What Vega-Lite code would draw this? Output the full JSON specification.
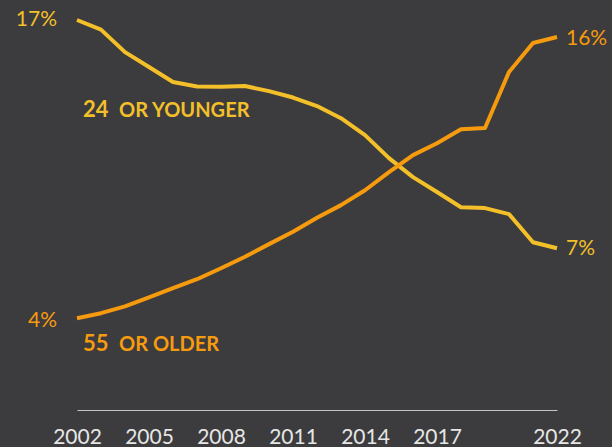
{
  "$schema": "https://vega.github.io/schema/vega-lite/v6.json",
  "width": 480,
  "height": 390,
  "autosize": {"type": "none"},
  "padding": {"left": 77, "top": 20, "right": 55, "bottom": 37},
  "background": "#3c3b3d",
  "config": {"view": {"stroke": null}, "font": "Lato"},
  "datasets": {
    "series": [
      {"year": 2002, "group": "24 or younger", "value": 17.0},
      {"year": 2003, "group": "24 or younger", "value": 16.58},
      {"year": 2004, "group": "24 or younger", "value": 15.6},
      {"year": 2005, "group": "24 or younger", "value": 14.95},
      {"year": 2006, "group": "24 or younger", "value": 14.3},
      {"year": 2007, "group": "24 or younger", "value": 14.1},
      {"year": 2008, "group": "24 or younger", "value": 14.09},
      {"year": 2009, "group": "24 or younger", "value": 14.12},
      {"year": 2010, "group": "24 or younger", "value": 13.9},
      {"year": 2011, "group": "24 or younger", "value": 13.62},
      {"year": 2012, "group": "24 or younger", "value": 13.25},
      {"year": 2013, "group": "24 or younger", "value": 12.72},
      {"year": 2014, "group": "24 or younger", "value": 11.98},
      {"year": 2015, "group": "24 or younger", "value": 10.98},
      {"year": 2016, "group": "24 or younger", "value": 10.15},
      {"year": 2017, "group": "24 or younger", "value": 9.5},
      {"year": 2018, "group": "24 or younger", "value": 8.84},
      {"year": 2019, "group": "24 or younger", "value": 8.8},
      {"year": 2020, "group": "24 or younger", "value": 8.54},
      {"year": 2021, "group": "24 or younger", "value": 7.31},
      {"year": 2022, "group": "24 or younger", "value": 7.05},
      {"year": 2002, "group": "55 or older", "value": 4.0},
      {"year": 2003, "group": "55 or older", "value": 4.22},
      {"year": 2004, "group": "55 or older", "value": 4.52},
      {"year": 2005, "group": "55 or older", "value": 4.91},
      {"year": 2006, "group": "55 or older", "value": 5.31},
      {"year": 2007, "group": "55 or older", "value": 5.7},
      {"year": 2008, "group": "55 or older", "value": 6.18},
      {"year": 2009, "group": "55 or older", "value": 6.68},
      {"year": 2010, "group": "55 or older", "value": 7.23},
      {"year": 2011, "group": "55 or older", "value": 7.77},
      {"year": 2012, "group": "55 or older", "value": 8.38},
      {"year": 2013, "group": "55 or older", "value": 8.93},
      {"year": 2014, "group": "55 or older", "value": 9.58},
      {"year": 2015, "group": "55 or older", "value": 10.37},
      {"year": 2016, "group": "55 or older", "value": 11.11},
      {"year": 2017, "group": "55 or older", "value": 11.63},
      {"year": 2018, "group": "55 or older", "value": 12.24},
      {"year": 2019, "group": "55 or older", "value": 12.29},
      {"year": 2020, "group": "55 or older", "value": 14.73},
      {"year": 2021, "group": "55 or older", "value": 16.0},
      {"year": 2022, "group": "55 or older", "value": 16.26}
    ],
    "startLabels": [
      {"year": 2002, "group": "24 or younger", "value": 17.0, "text": "17%"},
      {"year": 2002, "group": "55 or older", "value": 3.9, "text": "4%"}
    ],
    "endLabels": [
      {"year": 2022, "group": "24 or younger", "value": 7.0, "text": "7%"},
      {"year": 2022, "group": "55 or older", "value": 16.18, "text": "16%"}
    ],
    "ageNumbers": [
      {"year": 2002.25, "group": "24 or younger", "value": 12.78, "text": "24"},
      {"year": 2002.25, "group": "55 or older", "value": 2.56, "text": "55"}
    ],
    "ageWords": [
      {"year": 2003.75, "group": "24 or younger", "value": 12.78, "text": "OR YOUNGER"},
      {"year": 2003.75, "group": "55 or older", "value": 2.56, "text": "OR OLDER"}
    ]
  },
  "encoding": {
    "x": {
      "field": "year",
      "type": "quantitative",
      "scale": {"domain": [2002, 2022], "nice": false, "zero": false},
      "axis": {
        "values": [2002, 2005, 2008, 2011, 2014, 2017, 2022],
        "format": "d",
        "title": null,
        "grid": false,
        "ticks": false,
        "tickSize": 0,
        "labelOverlap": false,
        "labelBound": false,
        "labelFlush": false,
        "labelPadding": 16,
        "labelFontSize": 21,
        "labelFont": "Lato",
        "labelColor": "#e6e6e6",
        "domainColor": "#c4c4c4",
        "domainWidth": 1
      }
    },
    "y": {
      "field": "value",
      "type": "quantitative",
      "scale": {"domain": [0, 17], "nice": false},
      "axis": null
    },
    "color": {
      "field": "group",
      "type": "nominal",
      "scale": {"domain": ["24 or younger", "55 or older"], "range": ["#f3c02a", "#f69b0e"]},
      "legend": null
    }
  },
  "layer": [
    {
      "data": {"name": "series"},
      "mark": {"type": "line", "strokeWidth": 4, "strokeJoin": "round", "strokeCap": "butt"}
    },
    {
      "data": {"name": "startLabels"},
      "mark": {"type": "text", "align": "right", "baseline": "middle", "dx": -20, "fontSize": 21},
      "encoding": {"text": {"field": "text", "type": "nominal"}}
    },
    {
      "data": {"name": "endLabels"},
      "mark": {"type": "text", "align": "left", "baseline": "middle", "dx": 9, "fontSize": 21},
      "encoding": {"text": {"field": "text", "type": "nominal"}}
    },
    {
      "data": {"name": "ageNumbers"},
      "mark": {"type": "text", "align": "left", "baseline": "alphabetic", "fontSize": 22, "fontWeight": "bold"},
      "encoding": {"text": {"field": "text", "type": "nominal"}}
    },
    {
      "data": {"name": "ageWords"},
      "mark": {"type": "text", "align": "left", "baseline": "alphabetic", "fontSize": 20, "fontWeight": "bold"},
      "encoding": {"text": {"field": "text", "type": "nominal"}}
    }
  ]
}
